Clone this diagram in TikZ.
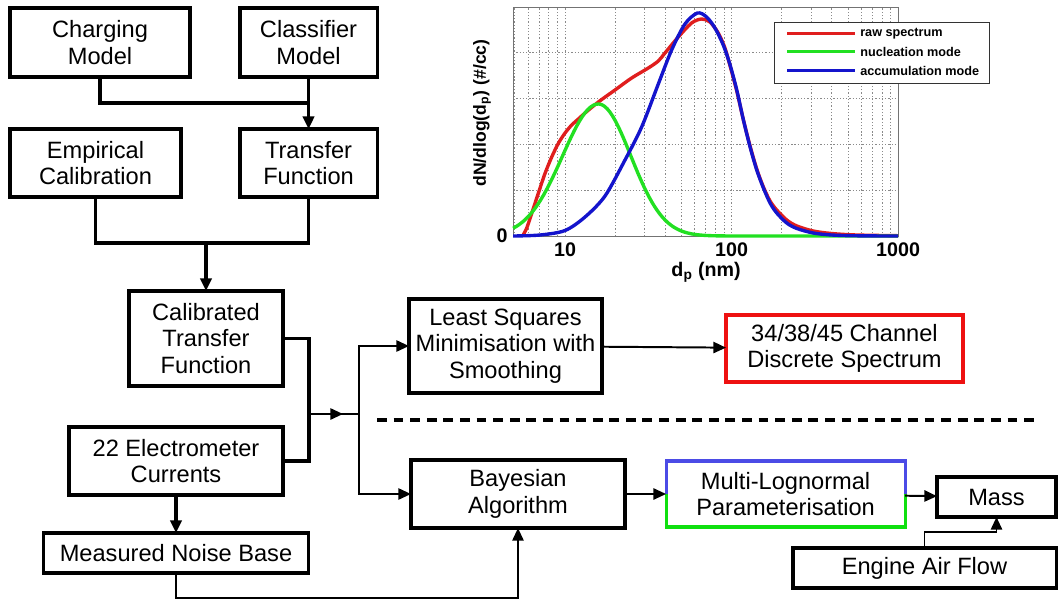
\documentclass[tikz,border=0pt]{standalone}
\usepackage{fontspec}
\setmainfont{Liberation Sans}
\usepackage{xcolor}
\definecolor{specred}{HTML}{E01E1E}
\definecolor{nucgreen}{HTML}{22E022}
\definecolor{accblue}{HTML}{1414CC}
\definecolor{lognblue}{HTML}{4B4BE6}
\definecolor{logngreen}{HTML}{10E010}
\definecolor{chanred}{HTML}{EE1111}
\definecolor{gridgrey}{HTML}{8A8A8A}
\usepackage{tikz}
\usetikzlibrary{calc,positioning,arrows.meta}

\begin{document}
\begin{tikzpicture}[
  x=0.025cm,y=0.025cm,
  box/.style={draw,line width=2.2pt,outer sep=0pt,inner sep=2pt,align=center,
              font=\fontsize{16.8}{19}\selectfont},
  conn/.style={line width=2.2pt},
  thinconn/.style={line width=1.4pt},
  arr/.style={-{Triangle[length=9pt,width=8pt]}},
  gridline/.style={gridgrey,line width=0.6pt,dash pattern=on 0.9pt off 1.4pt},
  curve/.style={line width=2.4pt,line join=round},
  plotlab/.style={font=\bfseries\fontsize{14}{16}\selectfont},
  leglab/.style={anchor=west,inner sep=0pt,font=\bfseries\fontsize{9}{10}\selectfont}
]
  \useasboundingbox (0,0) rectangle (1058,601);

  \node[box,minimum width=4.5cm,minimum height=1.725cm] (charge) at (100,558.5) {Charging\\Model};
  \node[box,right=1.25cm of charge,minimum width=3.425cm,minimum height=1.725cm] (classif) {Classifier\\Model};
  \node[box,below=1.3cm of charge.south west,anchor=north west,minimum width=4.275cm,minimum height=1.7cm] (empir) {Empirical\\Calibration};
  \node[box,below=1.3cm of classif,minimum width=3.425cm,minimum height=1.7cm] (transf) {Transfer\\Function};
  \node[box,minimum width=3.85cm,minimum height=2.375cm] (caltf) at (206,262.5) {Calibrated\\Transfer\\Function};
  \node[box,minimum width=5.35cm,minimum height=1.7cm] (elec) at (176,140) {22 Electrometer\\Currents};
  \node[box,below=0.95cm of elec,minimum width=6.625cm,minimum height=1cm] (noise) {Measured Noise Base};
  \node[box,minimum width=4.825cm,minimum height=2.35cm] (lsq) at (505.5,255) {Least Squares\\Minimisation with\\Smoothing};
  \node[box,draw=chanred,minimum width=5.925cm,minimum height=1.675cm] (chan) at (844.5,252.5) {34/38/45 Channel\\Discrete Spectrum};
  \node[box,minimum width=5.35cm,minimum height=1.7cm] (bayes) at (518,107) {Bayesian\\Algorithm};
  \node[box,draw=none,right=1.025cm of bayes,minimum width=5.975cm,minimum height=1.65cm] (multi) {Multi-Lognormal\\Parameterisation};
  \node[box,minimum width=2.975cm,minimum height=1cm] (mass) at (996.5,104) {Mass};
  \node[box,minimum width=6.575cm,minimum height=1cm] (engine) at (924.5,33) {Engine Air Flow};

  % two-tone border of the parameterisation box
  \draw[lognblue,line width=2.2pt] (multi.west) -- (multi.north west) -- (multi.north east) -- (multi.east);
  \draw[logngreen,line width=2.2pt] (multi.west) -- (multi.south west) -- (multi.south east) -- (multi.east);

  \coordinate (barA) at ($(classif.south)!0.5!(transf.north)$);
  \coordinate (barB) at ($(empir.south)+(0,-46)$);
  \coordinate (join) at (309,187);
  \coordinate (split) at (359,187);

  \draw[conn] (charge.south) |- (barA);
  \draw[conn,arr] (classif) -- (transf);
  \draw[conn] (empir.south) -- (barB) -| (transf.south);
  \draw[conn,arr] (barB -| caltf.north) -- (caltf.north);
  \draw[conn] (caltf.east) -| (join) |- (elec.east);
  \draw[conn,arr] (elec) -- (noise);
  \draw[thinconn,arr] (join) -- ++(34,0);
  \draw[thinconn] (join) -- (split);
  \draw[thinconn,arr] (split) |- (lsq.west);
  \draw[thinconn,arr] (split) |- (bayes.west);
  \draw[thinconn,arr] (lsq) -- (chan);
  \draw[thinconn,arr] (bayes) -- (multi);
  \draw[thinconn,arr] (multi) -- (mass);
  \draw[thinconn,arr] (noise.south) -- ++(0,-25) -| (bayes.south);
  \draw[thinconn,arr] (engine.north) -- ++(0,16) -| (mass.south);

  \draw[line width=2.6pt,dash pattern=on 7pt off 4.8pt] (377,181) -- (1040,181);

  % size spectrum, x in log10(d_p)
  \begin{scope}[shift={(398.5,365)},x=4.1625cm,y=0.025cm]
    \foreach \k in {5,6,7,8,9,10,20,...,90,100,200,...,900}
      \draw[gridline] ({log10(\k)},0) -- ({log10(\k)},229);
    \foreach \h in {45.8,91.6,137.4,183.2}
      \draw[gridline] (0.688,\h) -- (3,\h);
    \draw[black!55,line width=0.7pt] (0.688,0) rectangle (3,229);

    \draw[specred,curve] plot[smooth] coordinates {(0.745,0) (0.77,8) (0.80,22.7) (0.84,43) (0.88,62.7)
      (0.92,79) (0.96,92.7) (1.0,103) (1.04,111) (1.08,117) (1.12,123) (1.2,134) (1.3,146) (1.4,158)
      (1.5,168) (1.56,175) (1.6,183) (1.68,199) (1.76,213) (1.82,217) (1.87,214) (1.92,203) (1.96,188)
      (1.991,170) (2.031,145) (2.071,116) (2.111,90) (2.151,67) (2.191,49) (2.231,35) (2.271,26)
      (2.331,16) (2.392,10) (2.49,5) (2.6,2.5) (2.75,1) (3,0.3)};
    \draw[nucgreen,curve,domain=0.688:3,samples=140]
      plot (\x,{132*exp(-((\x-1.2)^2)/(2*((\x<1.2)?0.215:0.195)^2))});
    \draw[accblue,curve] plot[smooth] coordinates {(0.688,0) (0.85,1) (1.0,5.5) (1.12,19) (1.24,40)
      (1.36,76) (1.46,109) (1.56,152) (1.64,186) (1.72,212) (1.795,223) (1.85,219) (1.9,208) (1.95,191)
      (1.991,171) (2.031,146) (2.071,116) (2.111,89) (2.151,66) (2.191,48) (2.231,33) (2.271,23)
      (2.331,13) (2.392,7.5) (2.49,3) (2.6,1) (2.75,0.2) (3,0)};

    \node[plotlab] (tzero) at (0.622,0) {0};
    \node[plotlab] (t10) at (1,-14) {10};
    \node[plotlab] (t100) at (2,-14) {100};
    \node[plotlab] (t1000) at (3,-14) {1000};
    \node[plotlab] (xlab) at (1.847,-36) {d\textsubscript{p} (nm)};
    \node[plotlab,rotate=90,font=\bfseries\fontsize{12.5}{14}\selectfont] (ylab) at (0.5015,123) {dN/dlog(d\textsubscript{p}) (\#/cc)};
  \end{scope}

  \draw[black!80,fill=white,line width=0.6pt] (774,518) rectangle (989,579);
  \draw[specred,line width=2.4pt] (787,567.7) -- (855,567.7);
  \draw[nucgreen,line width=2.4pt] (787,549.3) -- (855,549.3);
  \draw[accblue,line width=2.4pt] (787,530.3) -- (855,530.3);
  \node[leglab] (lraw) at (860,567.7) {raw spectrum};
  \node[leglab] (lnuc) at (860,549.3) {nucleation mode};
  \node[leglab] (lacc) at (860,530.3) {accumulation mode};
\end{tikzpicture}
\end{document}
